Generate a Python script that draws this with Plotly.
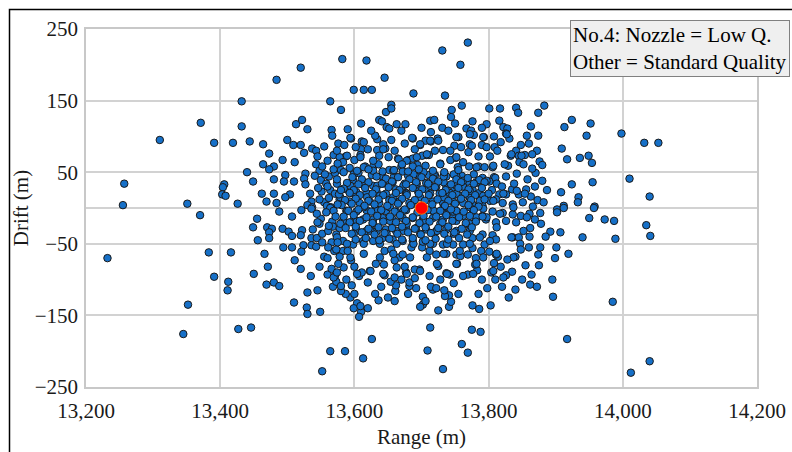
import plotly.graph_objects as go

# ---- data: (range m, drift m) ----
left_pts = [
(13520,196),(13484,179),(13432,149),(13564,149),(13371,119),(13310,95),(13432,114),(13513,117),(13522,123),
(13391,91),(13419,91),(13444,93),(13464,89),(13509,88),(13520,88),(13537,83),(13543,80),(13555,86),(13525,77),
(13545,72),(13566,109),(13567,101),(13473,76),(13569,74),(13493,67),(13511,64),(13464,61),(13480,58),(13473,54),
(13543,61),(13257,34),(13255,4),(13351,6),(13406,33),(13404,29),(13403,19),(13408,17),(13426,6),(13449,37),
(13497,46),(13495,37),(13510,37),(13527,48),(13525,41),(13527,33),(13550,39),(13562,44),(13558,34),(13564,25),
(13551,23),(13571,20),(13534,20),(13536,9),(13530,4),(13537,1),(13555,8),(13559,3),(13565,1),(13480,20),
(13504,19),(13497,15),(13469,9),(13484,7),(13571,49),
(13370,-10),(13232,-70),(13383,-62),(13416,-62),(13391,-96),(13352,-135),(13345,-176),(13412,-103),(13411,-115),
(13427,-169),(13446,-167),(13449,-27),(13455,-15),(13470,-27),(13477,-29),(13473,-34),(13473,-42),(13493,-29),
(13502,-33),(13507,-39),(13507,-12),(13521,-3),(13536,-1),(13522,-31),(13520,-38),(13538,-30),(13536,-42),
(13544,-42),(13552,-36),(13561,-32),(13550,-15),(13564,0),(13567,-19),(13568,-26),(13566,-48),(13570,-60),
(13466,-64),(13507,-55),(13524,-52),(13521,-61),(13536,-52),(13543,-54),(13561,-55),(13555,-68),(13511,-73),
(13471,-82),(13450,-92),(13469,-107),(13480,-104),(13488,-109),(13560,-93),(13571,-95),(13568,-110),(13530,-118),
(13545,-115),(13510,-132),(13529,-139),(13530,-148),(13549,-145),(13564,-200),(13552,-228),
]

upper_pts = [
(13769,231),(13731,220),(13758,200),(13582,208),(13618,206),(13645,182),(13599,165),(13614,165),(13626,165),
(13688,160),(13735,157),(13580,137),(13655,144),(13647,134),(13655,139),(13745,137),(13760,143),(13801,139),
(13817,139),(13841,140),(13844,133),(13874,133),(13883,143),(13637,123),(13641,121),(13663,117),(13676,117),
(13648,113),(13652,111),(13713,122),(13719,123),(13744,127),(13750,118),(13776,121),(13797,117),(13816,122),
(13822,113),(13828,111),(13863,114),(13874,101),(13714,106),(13731,112),(13687,97),(13698,88),(13706,94),
(13714,93),(13724,97),(13767,111),(13774,108),(13778,102),(13793,99),(13755,99),(13826,104),(13831,97),
(13595,97),(13611,93),(13634,96),(13576,90),(13790,88),(13772,89),(13749,87),(13759,85),(13732,81),(13809,85),
(13813,80),(13841,80),(13872,80),(13833,73),(13845,73),(13854,74),(13876,65),(13846,64),(13852,61),(13829,59),
(13870,49),(13869,30),(13856,26),(13873,11),(13863,16),(13845,19),(13835,26),(13826,19),(13816,19),(13811,12),
(13802,10),(13791,14),(13808,43),(13810,42),(13801,37),(13791,42),(13778,47),(13785,58),(13794,57),(13806,57),
(13771,58),(13760,45),(13754,57),(13751,70),(13743,67),(13728,62),(13707,74),(13701,73),(13711,74),(13694,60),
(13706,59),(13680,67),(13687,69),(13665,69),(13670,58),(13660,80),(13646,83),(13634,81),(13637,73),(13610,82),
(13609,74),(13600,67),(13587,72),(13578,71),(13583,64),(13616,58),(13628,58),(13636,61),(13652,53),(13672,51),
(13687,58),(13580,53),(13593,56),(13606,49),(13626,46),(13642,44),(13659,44),(13680,45),(13697,44),(13711,46),
(13720,46),(13737,44),(13752,44),(13769,37),(13781,35),(13598,39),(13613,35),(13628,31),(13642,34),(13657,36),
(13675,34),(13692,34),(13707,35),(13722,30),(13737,31),(13749,28),(13762,30),(13776,26),(13786,21),(13588,26),
(13603,22),(13618,21),(13633,23),(13647,20),(13662,26),(13677,21),(13695,23),(13709,25),(13727,20),(13742,21),
(13757,17),(13771,16),(13578,12),(13593,9),(13608,7),(13623,9),(13637,7),(13652,11),(13667,9),(13682,7),
(13717,9),(13732,7),(13747,9),(13762,7),(13776,5),(13791,3),(13821,7),(13836,5),(13851,8),
]

lower_pts = [
(13713,-167),(13709,-199),(13732,-225),(13626,-183),(13613,-210),(13586,-200),(13775,-170),(13788,-173),
(13760,-190),(13769,-202),(13776,-136),(13786,-141),(13803,-136),(13840,-114),(13862,-107),(13872,-110),
(13864,-93),(13875,-80),(13874,-65),(13877,-55),(13861,-40),(13836,-41),(13845,-41),(13840,-68),(13814,-68),
(13808,-77),(13818,-82),(13835,-89),(13826,-94),(13804,-90),(13810,-100),(13783,-87),(13780,-79),(13769,-93),
(13753,-78),(13742,-93),(13737,-91),(13725,-81),(13725,-143),(13741,-138),(13744,-131),(13741,-122),(13735,-123),
(13734,-115),(13717,-114),(13714,-110),(13722,-112),(13702,-124),(13702,-135),(13698,-138),(13706,-130),
(13692,-112),(13682,-109),(13682,-104),(13661,-116),(13662,-108),(13654,-103),(13660,-97),(13645,-94),
(13636,-129),(13631,-120),(13610,-145),(13607,-152),(13604,-133),(13599,-140),(13609,-137),(13594,-125),
(13587,-120),(13580,-116),(13573,-103),(13580,-109),(13607,-95),(13611,-90),(13623,-88),(13632,-78),(13644,-79),
(13600,-82),(13595,-73),(13583,-60),(13573,-58),(13697,-86),(13690,-86),(13677,-90),(13675,-82),(13667,-69),
(13660,-73),(13645,-60),(13655,-58),(13672,-65),(13685,-55),(13701,-55),(13712,-60),(13722,-65),(13737,-64),
(13752,-65),(13758,-67),(13769,-65),(13781,-70),(13789,-60),(13801,-61),(13811,-65),(13776,-42),(13791,-37),
(13806,-38),(13811,-44),(13794,-51),(13776,-56),(13762,-51),(13747,-51),(13732,-51),(13717,-50),(13702,-47),
(13687,-46),(13672,-46),(13657,-44),(13642,-42),(13628,-46),(13613,-46),(13598,-51),(13583,-46),(13603,-30),
(13618,-32),(13633,-33),(13647,-30),(13662,-32),(13677,-28),(13692,-28),(13707,-30),(13722,-32),(13737,-30),
(13752,-32),(13769,-23),(13781,-18),(13796,-16),(13811,-20),(13826,-18),(13841,-20),(13848,-11),(13861,-8),
(13869,-16),(13877,-7),(13836,-9),(13821,-7),(13806,-5),(13791,-11),(13776,-2),(13762,-11),(13747,-14),
(13732,-16),(13717,-14),(13702,-16),(13687,-14),(13672,-14),(13657,-16),(13642,-14),(13628,-16),(13613,-16),
(13598,-18),(13583,-18),(13588,-4),(13603,-5),(13618,-3),(13633,-7),(13647,-4),(13662,-5),(13677,-3),
(13717,-4),(13732,-4),(13747,-5),(13573,-37),(13578,-28),
]

right_pts = [
(13924,123),(13913,113),(13952,118),(13946,101),(13998,104),(14032,91),(14053,91),(13909,83),(13917,68),
(13936,70),(13949,73),(13954,63),(13887,25),(13908,22),(13924,33),(13955,36),(14010,41),(14040,16),(13934,15),
(13933,8),(13912,3),(13958,2),(13902,-2),(13902,-6),(13912,0),(13957,0),(13950,-14),(13973,-16),(13987,-18),
(14035,-24),(14041,-39),(13892,-33),(13907,-34),(13940,-41),(13989,-43),(13901,-55),(13899,-70),(13919,-64),
(13895,-100),(13896,-124),(13985,-131),(13917,-183),(14040,-214),(14012,-230),
]

center_pts = [
(13594,98),(13614,92),(13631,101),(13643,89),(13686,98),(13698,89),(13713,94),(13725,94),(13752,99),(13772,103),
(13792,99),(13775,87),(13797,85),(13827,103),(13834,75),(13849,73),(13857,101),(13574,80),(13589,73),(13609,71),
(13628,66),(13643,82),(13651,71),(13666,68),(13678,66),(13693,71),(13708,75),(13728,61),(13743,80),(13752,71),
(13762,64),(13782,57),(13807,59),(13824,61),(13569,54),(13584,50),(13599,47),(13614,57),(13628,52),(13641,45),
(13658,52),(13671,61),(13688,47),(13703,50),(13718,47),(13733,45),(13748,47),(13762,38),(13782,36),(13797,38),
(13812,34),(13822,20),(13842,24),(13854,20),(13837,1),(13857,-13),(13817,-8),(13797,-13),(13782,-13),(13812,-27),
(13834,-41),(13847,-50),(13802,-46),(13812,-64),(13837,-69),(13792,-69),(13782,-78),(13807,-88),(13822,-97),
(13777,-92),(13752,-78),(13738,-92),(13723,-78),(13698,-88),(13678,-92),(13663,-83),(13643,-92),(13624,-88),
(13604,-92),(13584,-83),(13569,-97),(13594,-69),(13614,-64),(13638,-69),(13658,-64),(13683,-69),(13708,-69),
(13733,-64),(13757,-60),(13772,-50),(13738,-50),(13713,-50),(13688,-50),(13663,-50),(13638,-50),(13614,-50),
(13589,-50),(13574,-41),(13599,-36),(13624,-32),(13648,-36),(13673,-32),(13698,-36),(13723,-32),(13748,-36),
(13772,-32),(13787,-41),(13579,-22),(13604,-18),(13628,-22),(13653,-18),(13678,-22),(13703,-18),(13728,-22),
(13752,-18),(13772,-22),(13569,-4),(13589,-4),(13614,1),(13634,-4),(13653,1),(13673,-4),(13688,6),(13718,-4),
(13733,1),(13752,-4),(13772,1),(13792,-1),(13579,15),(13599,20),(13619,15),(13638,17),(13658,15),(13678,20),
(13698,15),(13713,20),(13733,15),(13752,20),(13772,15),(13792,17),(13807,10),(13574,34),(13594,31),(13614,36),
(13634,31),(13653,36),(13673,31),(13693,34),(13713,31),(13733,36),(13752,31),(13772,24),(13787,10),
]

core_pts = [
(13597,43),(13611,40),(13633,44),(13647,41),(13665,43),(13682,40),(13700,43),(13717,41),(13733,44),(13752,40),
(13769,42),(13786,39),(13589,35),(13606,33),(13621,36),(13641,34),(13656,37),(13677,33),(13692,36),(13710,34),
(13725,37),(13744,33),(13759,36),(13778,34),(13794,36),(13584,27),(13599,25),(13616,28),(13632,26),(13651,29),
(13667,25),(13687,28),(13701,26),(13720,29),(13736,25),(13755,28),(13770,26),(13790,28),(13805,25),(13577,19),
(13593,21),(13608,18),(13627,20),(13643,18),(13662,21),(13678,18),(13696,20),(13711,18),(13731,21),(13746,18),
(13765,20),(13780,18),(13800,20),(13586,11),(13602,13),(13621,10),(13636,12),(13656,10),(13671,13),(13690,11),
(13705,10),(13724,12),(13740,10),(13759,13),(13774,11),(13794,12),(13581,4),(13596,6),(13615,3),(13630,5),
(13649,3),(13665,6),(13684,4),(13716,5),(13735,3),(13750,6),(13770,4),(13785,2),(13591,-4),(13606,-2),
(13625,-5),(13640,-3),(13660,-5),(13675,-2),(13694,-6),(13709,-3),(13728,-4),(13744,-2),(13763,-5),(13778,-3),
(13584,-12),(13599,-10),(13618,-13),(13634,-11),(13653,-12),(13668,-10),(13687,-13),(13703,-11),(13722,-12),
(13737,-10),(13756,-13),(13772,-11),(13791,-12),(13593,-20),(13608,-18),(13627,-21),(13643,-19),(13662,-20),
(13677,-18),(13697,-21),(13712,-19),(13731,-20),(13746,-18),(13766,-21),(13781,-19),(13587,-28),(13602,-26),
(13621,-29),(13636,-27),(13656,-28),(13671,-26),(13690,-29),(13706,-27),(13725,-28),(13740,-26),(13760,-29),
(13775,-27),(13596,-36),(13611,-34),(13630,-37),(13645,-35),(13664,-36),(13680,-34),(13699,-37),(13714,-35),
(13734,-36),(13749,-34),(13768,-37),(13602,-44),(13617,-42),(13637,-45),(13652,-43),(13671,-44),(13687,-42),
(13706,-45),(13721,-43),(13740,-44),(13756,-42),(13604,52),(13621,54),(13642,51),(13659,53),(13680,51),
(13696,54),(13717,52),(13734,50),(13755,53),
]

ring_pts = [
(13548,52),(13556,47),(13541,45),(13575,62),(13560,66),(13552,58),(13546,28),(13560,30),(13574,40),(13548,12),
(13562,14),(13575,5),(13544,-8),(13558,-6),(13572,-12),(13548,-22),(13562,-25),(13575,-48),(13552,-48),(13560,-70),
(13576,-78),(13548,-82),(13566,-85),(13578,-68),(13590,-60),(13588,-100),(13596,-108),(13620,-104),(13640,-110),
(13650,-125),(13670,-100),(13690,-98),(13712,-95),(13728,-100),(13748,-105),(13762,-95),(13790,-100),(13798,-112),
(13820,-110),(13850,-100),(13855,-80),(13828,-72),(13848,-58),(13862,-28),(13852,-32),(13866,2),(13878,-22),
(13882,8),(13858,40),(13865,55),(13880,38),(13842,48),(13826,44),(13820,30),(13838,34),(13848,88),(13860,90),
(13818,92),(13802,72),(13785,72),(13770,78),(13720,80),(13690,82),(13675,90),(13655,95),(13620,82),(13602,85),
(13585,88),(13590,110),(13610,118),(13625,108),(13670,108),(13700,112),(13740,108),(13790,112),(13808,100),
(13480,40),(13488,-5),(13462,20),(13494,-55),(13520,-85),(13535,-95),(13500,95),(13530,110),(13456,-45),(13440,50),
(13600,-120),(13620,-140),(13660,-130),(13680,-120),(13755,-120),(13785,-120),(13830,-125),
(13545,-20),(13580,25),(13574,-90),(13860,-55),(13885,-40),(13880,60),(13865,75),
]

target_range = [13700]
target_drift = [0]

x_ticks = [13200, 13400, 13600, 13800, 14000, 14200]
y_ticks = [-250, -150, -50, 50, 150, 250]

pts = left_pts + upper_pts + lower_pts + right_pts + center_pts + core_pts + ring_pts
range_m = [p[0] for p in pts]
drift_m = [p[1] for p in pts]

FONT = "Liberation Serif"
TXT = "#1a1a1a"
FS = 21

fig = go.Figure()
fig.add_trace(go.Scatter(
    x=range_m, y=drift_m, mode="markers",
    marker=dict(size=7.5, color="#1670c8", line=dict(color="#1a1a1a", width=1)),
    showlegend=False, hoverinfo="x+y"))
fig.add_trace(go.Scatter(
    x=target_range, y=target_drift, mode="markers",
    marker=dict(size=12.5, color="#ff0000", line=dict(color="#ff7000", width=1)),
    showlegend=False))

axis_common = dict(
    showgrid=True, gridcolor="#d2d2d2", gridwidth=1.5,
    showline=True, linecolor="#c8c8c8", linewidth=1.5, mirror=True,
    ticks="outside", tickcolor="rgba(0,0,0,0)", automargin=False,
    tickfont=dict(family=FONT, size=FS, color=TXT),
)

# plot area: x 86..757, y 29..387 in the 792x452 page
fig.update_layout(
    width=792, height=452,
    margin=dict(l=86, r=35, t=29, b=65),
    paper_bgcolor="white", plot_bgcolor="white",
    font=dict(family=FONT, size=FS, color=TXT),
    xaxis=dict(range=[13200, 14200], tickvals=x_ticks, tickformat=",d", ticklen=4,
               zeroline=False,
               title=dict(text="Range (m)", font=dict(family=FONT, size=FS, color=TXT), standoff=7),
               **axis_common),
    yaxis=dict(range=[-250, 250], tickvals=y_ticks, ticklen=2,
               zeroline=True, zerolinecolor="#d2d2d2", zerolinewidth=1.5,
               title=dict(text="Drift (m)", font=dict(family=FONT, size=FS, color=TXT), standoff=0),
               **axis_common),
    shapes=[dict(type="rect", xref="paper", yref="paper",
                 x0=(9.5 - 86) / 671, x1=1.2, y0=-0.4, y1=(387 - 9.5) / 358,
                 line=dict(color="black", width=1.5), fillcolor="rgba(0,0,0,0)", layer="above")],
    annotations=[dict(
        xref="paper", yref="paper", x=(570 - 86) / 671, y=(387 - 20) / 358,
        xanchor="left", yanchor="top", align="left", showarrow=False,
        text="No.4: Nozzle = Low Q.<br>Other = Standard Quality",
        font=dict(family=FONT, size=FS, color="black"),
        bgcolor="#efefef", bordercolor="#808080", borderwidth=1, borderpad=2)],
)

fig.write_html(
    "out.html",
    config={"displayModeBar": False},
    post_script=("document.body.style.margin='0';"
                 "document.body.style.overflow='hidden';"
                 "document.documentElement.style.overflow='hidden';"),
)
